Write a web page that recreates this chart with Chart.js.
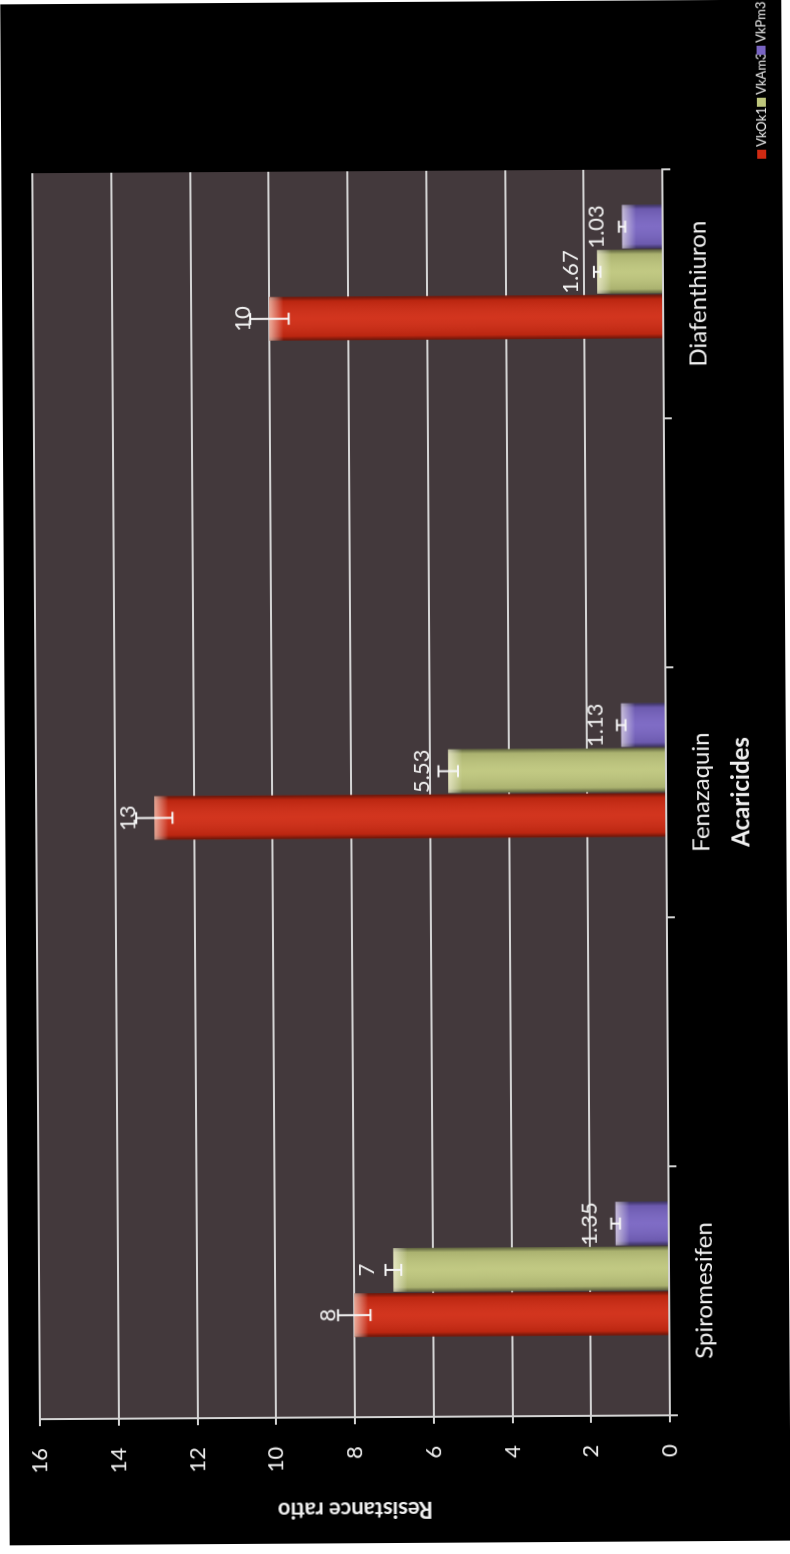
<!DOCTYPE html>
<html>
<head>
<meta charset="utf-8">
<script src="https://cdn.jsdelivr.net/npm/chart.js@4.4.1/dist/chart.umd.min.js"></script>
<style>
  html, body { margin: 0; padding: 0; background: #fff; width: 790px; height: 1554px; overflow: hidden; }
  /* the chart is laid out landscape and turned to stand upright on the page */
  #frame { position: absolute; left: -382px; top: 382px; width: 1554px; height: 790px;
           transform-origin: 777px 395px; transform: rotate(-90.35deg); }
  canvas { display: block; }
</style>
</head>
<body>
<div id="frame"><canvas id="chart" width="1554" height="790"></canvas></div>
<script>
// Acaricide resistance ratios per mite population
const categories = ['Spiromesifen', '', 'Fenazaquin', '', 'Diafenthiuron'];
const seriesNames = ['VkOk1', 'VkAm3', 'VkPm3'];
const vkOk1 = [8, null, 13, null, 10];
const vkAm3 = [7, null, 5.53, null, 1.67];
const vkPm3 = [1.35, null, 1.13, null, 1.03];
// error bar half-widths
const vkOk1Err = [0.41, null, 0.46, null, 0.49];
const vkAm3Err = [0.2, null, 0.25, null, 0.08];
const vkPm3Err = [0.11, null, 0.11, null, 0.08];
const valueTicks = [0, 2, 4, 6, 8, 10, 12, 14, 16];

const barColors = ['#d02a12', '#bec67c', '#7864c2'];
const ink = '#f0f0f0';
const rule = '#d4d4d4';
const plotFill = 'rgb(67,57,60)';

const backdrop = {
  id: 'backdrop',
  beforeDraw(chart) {
    const { ctx, chartArea: a } = chart;
    ctx.save();
    ctx.fillStyle = '#fff';
    ctx.fillRect(0, 0, chart.width, chart.height);
    ctx.fillStyle = '#000';
    ctx.fillRect(11, 5, 1541, 781);
    ctx.fillStyle = plotFill;
    ctx.fillRect(a.left, a.top, a.right - a.left, a.bottom - a.top);
    ctx.restore();
  }
};

// soft bevel: darker long edges and a light cap at the end of each bar
const bevel = {
  id: 'bevel',
  afterDatasetsDraw(chart) {
    const ctx = chart.ctx;
    ctx.save();
    chart.data.datasets.forEach((ds, di) => {
      const meta = chart.getDatasetMeta(di);
      meta.data.forEach((bar, i) => {
        if (ds.data[i] == null) return;
        const { x, y, base, width } = bar.getProps(['x', 'y', 'base', 'width'], true);
        const left = x - width / 2, h = base - y;
        const g = ctx.createLinearGradient(left, 0, left + width, 0);
        g.addColorStop(0, 'rgba(0,0,0,0.5)');
        g.addColorStop(0.1, 'rgba(0,0,0,0.1)');
        g.addColorStop(0.5, 'rgba(255,255,255,0.05)');
        g.addColorStop(0.9, 'rgba(0,0,0,0.1)');
        g.addColorStop(1, 'rgba(0,0,0,0.5)');
        ctx.fillStyle = g;
        ctx.fillRect(left, y, width, h);
        const capLen = Math.min(14, h);
        const t = ctx.createLinearGradient(0, y, 0, y + capLen);
        t.addColorStop(0, 'rgba(255,250,235,0.6)');
        t.addColorStop(1, 'rgba(255,255,255,0)');
        ctx.fillStyle = t;
        ctx.fillRect(left, y, width, capLen);
      });
    });
    ctx.restore();
  }
};

// error bars and value labels
const errorsAndLabels = {
  id: 'errorsAndLabels',
  afterDatasetsDraw(chart) {
    const ctx = chart.ctx, yScale = chart.scales.y;
    ctx.save();
    chart.data.datasets.forEach((ds, di) => {
      if (!ds.errors) return;
      const meta = chart.getDatasetMeta(di);
      meta.data.forEach((bar, i) => {
        const v = ds.data[i], e = ds.errors[i];
        if (v == null) return;
        const x = bar.x;
        const hi = yScale.getPixelForValue(v + e), lo = yScale.getPixelForValue(v - e);
        ctx.strokeStyle = '#f6f6f6';
        ctx.lineWidth = 2;
        ctx.beginPath();
        ctx.moveTo(x, hi); ctx.lineTo(x, lo);
        ctx.moveTo(x - 6, hi); ctx.lineTo(x + 6, hi);
        ctx.moveTo(x - 6, lo); ctx.lineTo(x + 6, lo);
        ctx.stroke();
        ctx.fillStyle = ink;
        ctx.font = '22px Lato';
        ctx.textAlign = 'center';
        ctx.textBaseline = 'middle';
        ctx.fillText(String(v), x, yScale.getPixelForValue(v) - 26);
      });
    });
    ctx.restore();
  }
};

// single-row legend in the lower right corner
const legendRow = {
  id: 'legendRow',
  afterDraw(chart) {
    const ctx = chart.ctx;
    ctx.save();
    ctx.font = '13px Lato';
    ctx.textBaseline = 'middle';
    ctx.textAlign = 'left';
    let u = 1393;
    const v = 766;
    chart.data.datasets.forEach(ds => {
      if (!ds.label) return;
      ctx.fillStyle = ds.backgroundColor;
      ctx.fillRect(u, v - 5, 9, 9);
      ctx.fillStyle = ink;
      ctx.fillText(ds.label, u + 12, v);
      u += 52;
    });
    ctx.restore();
  }
};

const barShape = { categoryPercentage: 0.7223, barPercentage: 0.967, borderWidth: 0 };

new Chart(document.getElementById('chart'), {
  type: 'bar',
  data: {
    labels: categories,
    datasets: [
      { label: '', data: categories.map(() => null), backgroundColor: 'rgba(0,0,0,0)', ...barShape },
      { label: seriesNames[0], data: vkOk1, errors: vkOk1Err, backgroundColor: barColors[0], ...barShape },
      { label: seriesNames[1], data: vkAm3, errors: vkAm3Err, backgroundColor: barColors[1], ...barShape },
      { label: seriesNames[2], data: vkPm3, errors: vkPm3Err, backgroundColor: barColors[2], ...barShape }
    ]
  },
  options: {
    responsive: false,
    animation: false,
    devicePixelRatio: 1,
    layout: { padding: { top: 36, left: 0, right: 171, bottom: 0 } },
    plugins: { legend: { display: false }, tooltip: { enabled: false } },
    scales: {
      x: {
        type: 'category',
        offset: true,
        afterFit: s => { s.height = 124; },
        grid: { offset: true, drawOnChartArea: false, drawTicks: true, tickLength: 8, color: rule, lineWidth: 2 },
        border: { display: true, color: rule, width: 2 },
        ticks: { color: ink, font: { family: 'Lato', size: 24 }, padding: 13, maxRotation: 0, autoSkip: false },
        title: { display: true, text: 'Acaricides', color: ink,
                 font: { family: 'Lato', size: 24, weight: 'bold' }, padding: { top: 0, bottom: 34 } }
      },
      y: {
        min: 0,
        max: 16,
        afterBuildTicks: s => { s.ticks = valueTicks.map(v => ({ value: v })); },
        afterFit: s => { s.width = 137; },
        grid: { color: rule, lineWidth: 2, drawTicks: true, tickLength: 7 },
        border: { display: true, color: rule, width: 2 },
        ticks: { color: ink, font: { family: 'Lato', size: 22 }, padding: 22 },
        title: { display: true, text: 'Resistance ratio', color: ink,
                 font: { family: 'Lato', size: 22, weight: 'bold' }, padding: { top: 32, bottom: 0 } }
      }
    }
  },
  plugins: [backdrop, bevel, errorsAndLabels, legendRow]
});
</script>
</body>
</html>
